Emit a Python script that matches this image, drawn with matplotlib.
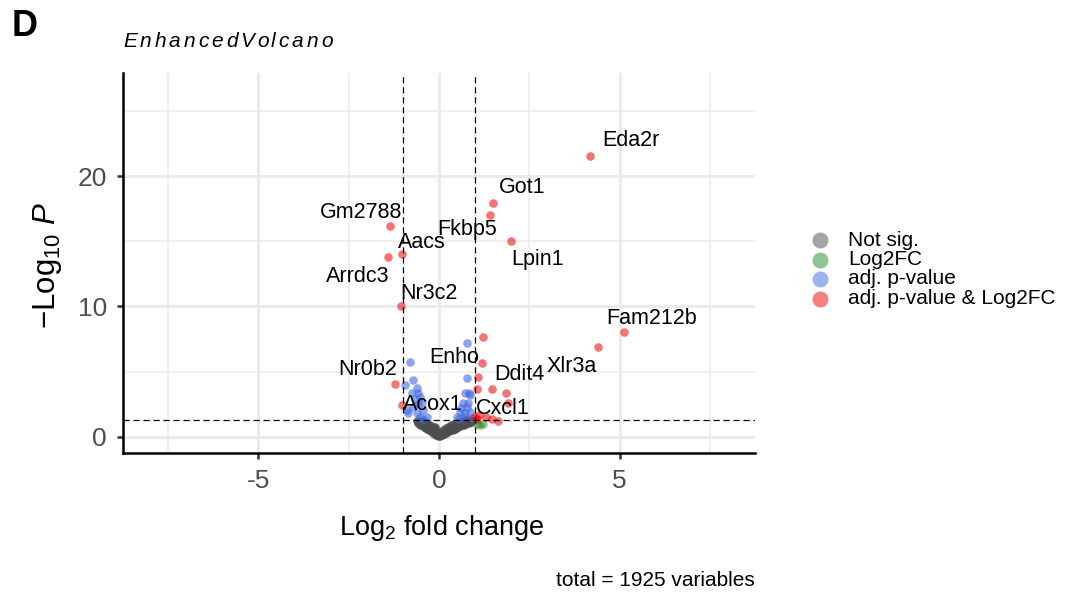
import matplotlib
matplotlib.use('Agg')
import matplotlib.pyplot as plt
from matplotlib.lines import Line2D

plt.rcParams['font.family'] = ['Liberation Sans', 'DejaVu Sans']
plt.rcParams['mathtext.fontset'] = 'custom'
plt.rcParams['mathtext.rm'] = 'Liberation Sans'
plt.rcParams['mathtext.it'] = 'Liberation Sans:italic'

# significant by adj. p-value and fold change (labelled genes first)
red_fc = [4.18, 1.50, 1.41, 2.00, -1.36, -1.03, -1.41, -1.05, 5.12, 4.40,
          -1.22, -1.03, 1.47, 1.47,
          1.21, 1.19, 1.08, 1.05, 1.85, 1.91, 1.00, 1.10, 1.30, 1.62, 1.05]
red_p = [21.5, 17.9, 17.0, 15.0, 16.2, 14.0, 13.8, 10.0, 8.05, 6.9,
         4.06, 2.45, 3.7, 1.4,
         7.65, 5.65, 4.6, 3.7, 3.4, 2.6, 1.55, 1.65, 1.5, 1.2, 1.35]

# significant by adj. p-value only
blue_fc = [-0.80, -0.71, -0.94, -0.62, -0.57, -0.53, -0.76, -0.48, -0.71,
           -0.85, -0.62, -0.43, -0.53, -0.34, -0.66, -0.58, -0.90, -0.45,
           0.77, 0.78, 0.72, 0.84, 0.67, 0.80, 0.58, 0.72, 0.49, 0.86,
           0.77, 0.86, 0.90, 0.62, 0.55, 0.70]
blue_p = [5.77, 4.37, 3.98, 3.73, 3.35, 3.09, 3.35, 2.70, 2.32,
          1.81, 1.81, 2.07, 1.56, 1.56, 2.9, 2.5, 2.1, 1.4,
          7.23, 4.50, 3.35, 3.35, 2.58, 2.58, 1.94, 1.81, 1.56, 1.94,
          2.27, 3.22, 1.45, 2.2, 1.35, 1.5]

# fold change only
green_fc = [1.05, 1.22, 1.14]
green_p = [1.0, 1.0, 0.95]

# not significant
grey_fc = [-0.58, -0.52, -0.47, -0.42, -0.37, -0.32, -0.27, -0.22, -0.17,
           -0.12, -0.07, -0.02, 0.03, 0.08, 0.13, 0.18, 0.23, 0.28, 0.33,
           0.38, 0.43, 0.48, 0.53, 0.58, 0.63, 0.68, 0.73, 0.78, 0.83, 0.88,
           -0.50, -0.42, -0.34, -0.26, -0.18, -0.10, 0.10, 0.18, 0.26, 0.34,
           0.42, 0.50, 0.58, 0.66, 0.74, 0.82, -0.11, 0.00, 0.05, -0.05,
           -0.60, -0.30, 0.30, 0.70, 0.92]
grey_p = [1.05, 0.95, 0.88, 0.80, 0.70, 0.62, 0.52, 0.42, 0.33,
          0.24, 0.14, 0.06, 0.06, 0.12, 0.20, 0.27, 0.35, 0.42, 0.50,
          0.57, 0.63, 0.70, 0.77, 0.83, 0.88, 0.94, 1.00, 1.05, 1.10, 1.15,
          1.25, 1.15, 1.05, 0.92, 0.78, 0.62, 0.55, 0.68, 0.80, 0.90,
          0.98, 1.07, 1.15, 1.22, 1.27, 1.30, 0.80, 0.30, 0.40, 0.35,
          1.20, 0.95, 0.70, 1.20, 1.25]

genes = ['Eda2r', 'Got1', 'Fkbp5', 'Lpin1', 'Gm2788', 'Aacs', 'Arrdc3',
         'Nr3c2', 'Fam212b', 'Xlr3a', 'Nr0b2', 'Enho', 'Ddit4', 'Acox1',
         'Cxcl1']
# where each gene name sits (data units)
label_x = [5.32, 2.29, 0.78, 2.72, -2.16, -0.47, -2.24, -0.28, 5.90, 3.66,
           -1.97, 0.42, 2.22, -0.17, 1.77]
label_y = [22.7, 19.1, 15.9, 13.6, 17.2, 14.9, 12.3, 11.0, 9.1, 5.4,
           5.2, 6.1, 4.75, 2.45, 2.2]

legend_labels = ['Not sig.', 'Log2FC', 'adj. p-value', 'adj. p-value & Log2FC']
legend_cols = ['#4d4d4d', '#228b22', '#4169e1', '#ee0000']

fig = plt.figure(figsize=(10.67, 5.93), dpi=100)
ax = fig.add_axes([0.1153, 0.2361, 0.5923, 0.6408])

ax.set_xlim(-8.75, 8.75)
ax.set_ylim(-1.23, 27.9)

# grid
for v in [-7.5, -2.5, 2.5, 7.5]:
    ax.axvline(v, color='#ebebeb', lw=1.1, zorder=0)
for v in [5, 15, 25]:
    ax.axhline(v, color='#ebebeb', lw=1.1, zorder=0)
for v in [-5, 0, 5]:
    ax.axvline(v, color='#ebebeb', lw=2.2, zorder=0)
for v in [0, 10, 20]:
    ax.axhline(v, color='#ebebeb', lw=2.2, zorder=0)

ax.scatter(grey_fc, grey_p, s=38, color='#4d4d4d', alpha=0.8, lw=0, zorder=2)
ax.scatter(green_fc, green_p, s=38, color='#228b22', alpha=0.5, lw=0, zorder=2)
ax.scatter(blue_fc, blue_p, s=38, color='#4169e1', alpha=0.6, lw=0, zorder=2)
ax.scatter(red_fc, red_p, s=38, color='#ee0000', alpha=0.55, lw=0, zorder=2)

# cut-offs
dash = (0, (5, 3))
ax.axvline(-1, color='black', lw=0.9, ls=dash, zorder=3)
ax.axvline(1, color='black', lw=0.9, ls=dash, zorder=3)
ax.axhline(1.30103, color='black', lw=0.9, ls=dash, zorder=3)

for g, lx, ly in zip(genes, label_x, label_y):
    ax.text(lx, ly, g, fontsize=15.5, ha='center', va='center', color='black', zorder=4)

ax.set_xticks([-5, 0, 5])
ax.set_xticklabels(['-5', '0', '5'])
ax.set_yticks([0, 10, 20])
ax.tick_params(labelsize=19, labelcolor='#4d4d4d', color='#333333',
               width=1.8, length=4.5, pad=7)
for side in ['top', 'right']:
    ax.spines[side].set_visible(False)
for side in ['left', 'bottom']:
    ax.spines[side].set_linewidth(1.8)
    ax.spines[side].set_color('black')

fig.text(442 / 1067, 1 - 535 / 593, r'$\mathrm{Log}_{2}$ fold change',
         fontsize=19.5, ha='center', va='baseline')
fig.text(47 / 1067, 1 - 265 / 593, r'$-\mathrm{Log}_{10}\ P$',
         fontsize=22.5, ha='center', va='center', rotation=90)

# legend drawn as marker + label rows
for i, (lab, c) in enumerate(zip(legend_labels, legend_cols)):
    yy = 1 - (240 + 19.5 * i) / 593
    fig.add_artist(Line2D([820 / 1067], [yy], marker='o', ms=11.5, color=c,
                          alpha=0.5, mew=0, transform=fig.transFigure))
    fig.text(848 / 1067, yy, lab, fontsize=15, ha='left', va='center')

# spaced italic title
renderer = fig.canvas.get_renderer()
title = 'EnhancedVolcano'
x0 = 123
for i, ch in enumerate(title):
    if i:
        tmp = fig.text(0, 0, title[:i] + 'l', fontsize=15, style='italic')
        tmp2 = fig.text(0, 0, 'l', fontsize=15, style='italic')
        w = tmp.get_window_extent(renderer).width - tmp2.get_window_extent(renderer).width
        tmp.remove()
        tmp2.remove()
    else:
        w = 0
    fig.text((x0 + w + 2.9 * i) / 1067, 1 - 47 / 593, ch, fontsize=15,
             style='italic', va='baseline', ha='left')

fig.text(12 / 1067, 1 - 36 / 593, 'D', fontsize=26, fontweight='bold',
         va='baseline', ha='left')
fig.text(755 / 1067, 1 - 586 / 593, 'total = 1925 variables', fontsize=15,
         ha='right', va='baseline')

fig.savefig('out.png', dpi=100)
